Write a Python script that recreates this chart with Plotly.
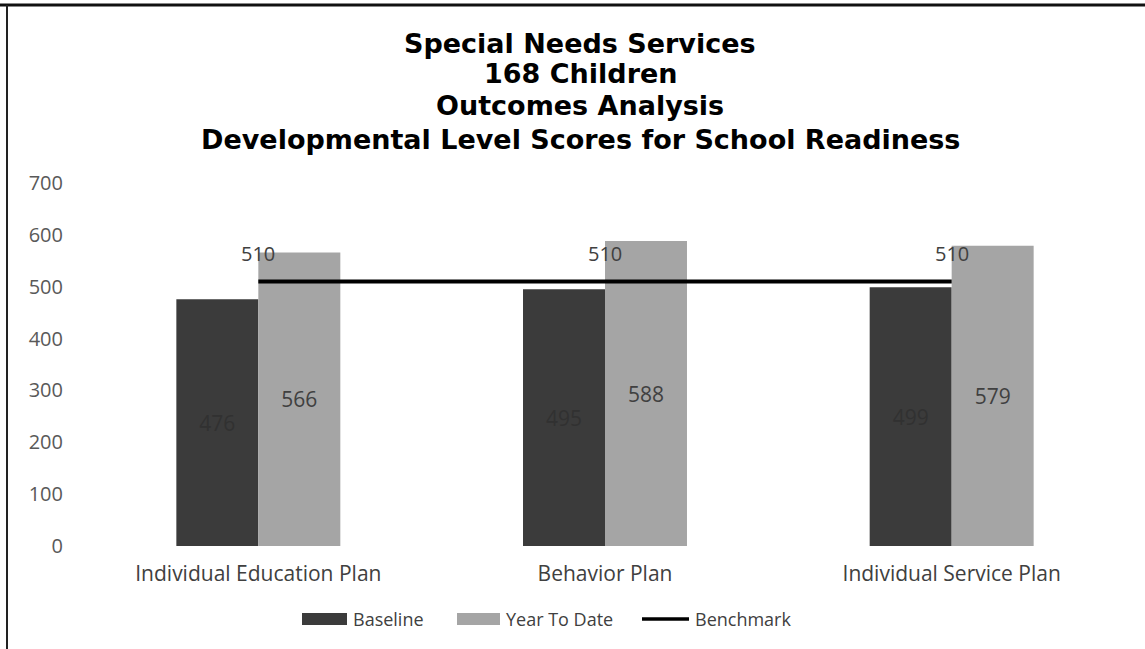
import plotly.graph_objects as go

# Chart data
categories = ["Individual Education Plan", "Behavior Plan", "Individual Service Plan"]
baseline = [476, 495, 499]
year_to_date = [566, 588, 579]
benchmark = [510, 510, 510]
y_ticks = [0, 100, 200, 300, 400, 500, 600, 700]
title_lines = [
    "Special Needs Services",
    "168 Children",
    "Outcomes Analysis",
    "Developmental Level Scores for School Readiness",
]
legend_names = ["Baseline", "Year To Date", "Benchmark"]

W, H = 1145, 649
L, R, T, B = 85, 20, 183, 103
PW, PH = W - L - R, H - T - B

DARK = "#3b3b3b"
LIGHT = "#a5a5a5"
TEXT = "#404040"
FONT = "Open Sans"


def px(x):
    return (x - L) / PW


def py(y):
    return (H - B - y) / PH


fig = go.Figure()

fig.add_trace(go.Bar(
    x=categories, y=baseline, name=legend_names[0],
    marker=dict(color=DARK, line=dict(width=0)),
    text=[str(v) for v in baseline], textposition="inside",
    insidetextanchor="middle",
    textfont=dict(family=FONT, size=21, color="#313131"),
    showlegend=False,
))
fig.add_trace(go.Bar(
    x=categories, y=year_to_date, name=legend_names[1],
    marker=dict(color=LIGHT, line=dict(width=0)),
    text=[str(v) for v in year_to_date], textposition="inside",
    insidetextanchor="middle",
    textfont=dict(family=FONT, size=21, color=TEXT),
    showlegend=False,
))
fig.add_trace(go.Scatter(
    x=categories, y=benchmark, name=legend_names[2], mode="lines",
    line=dict(color="#000000", width=4),
    showlegend=False,
))

# Benchmark value labels above the line
for c, v in zip(categories, benchmark):
    fig.add_annotation(
        x=c, y=v, text=str(v), showarrow=False, yshift=28,
        font=dict(family=FONT, size=20, color=TEXT),
    )

# Title lines
title_y = [43, 74, 106, 139]
for line, ty in zip(title_lines, title_y):
    fig.add_annotation(
        xref="paper", yref="paper", x=px(580), y=py(ty),
        text=f"<b>{line}</b>", showarrow=False,
        xanchor="center", yanchor="middle",
        font=dict(family="DejaVu Sans", size=27, color="#000000"),
    )

# Legend
legend_items = [
    (legend_names[0], "bar", DARK, 302, 347),
    (legend_names[1], "bar", LIGHT, 457, 500),
    (legend_names[2], "line", "#000000", 642, 689),
]
ly = 619
for name, kind, color, x0, x1 in legend_items:
    if kind == "bar":
        fig.add_shape(type="rect", xref="paper", yref="paper",
                      x0=px(x0), x1=px(x1), y0=py(ly - 6), y1=py(ly + 6),
                      fillcolor=color, line=dict(width=0))
    else:
        fig.add_shape(type="line", xref="paper", yref="paper",
                      x0=px(x0), x1=px(x1), y0=py(ly), y1=py(ly),
                      line=dict(color=color, width=3.5))
    fig.add_annotation(
        xref="paper", yref="paper", x=px(x1 + 4), y=py(ly),
        text=name, showarrow=False, xanchor="left", yanchor="middle",
        font=dict(family=FONT, size=18, color=TEXT),
    )

# Frame lines around the chart area
fig.add_shape(type="line", xref="paper", yref="paper",
              x0=px(0), x1=px(W), y0=py(5), y1=py(5),
              line=dict(color="#111111", width=3))
fig.add_shape(type="line", xref="paper", yref="paper",
              x0=px(7), x1=px(7), y0=py(5), y1=py(H),
              line=dict(color="#222222", width=2))

fig.update_layout(
    width=W, height=H,
    margin=dict(l=L, r=R, t=T, b=B),
    paper_bgcolor="white", plot_bgcolor="white",
    barmode="group", bargap=0.527, bargroupgap=0,
    showlegend=False,
    font=dict(family=FONT, color=TEXT),
)
fig.update_xaxes(
    showgrid=False, showline=False, zeroline=False, ticks="",
    tickfont=dict(family=FONT, size=21, color="#404040"),
    ticklabelstandoff=13,
)
fig.update_yaxes(
    range=[0, 700], tickvals=y_ticks,
    showgrid=False, showline=False, zeroline=False, ticks="",
    tickfont=dict(family=FONT, size=20, color="#595959"),
    ticklabelstandoff=21,
)

fig.write_html("out.html")
